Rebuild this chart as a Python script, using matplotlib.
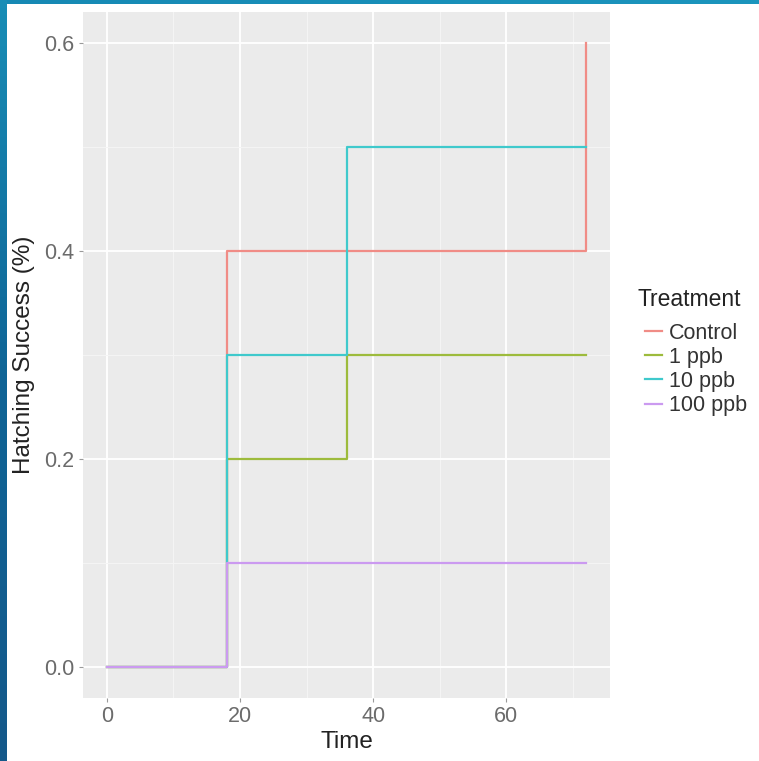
import numpy as np
import matplotlib
matplotlib.use('Agg')
from matplotlib import pyplot as plt

# data
time = [0, 18, 36, 72]
treatments = ['Control', '1 ppb', '10 ppb', '100 ppb']
control = [0.0, 0.4, 0.4, 0.6]
ppb1 = [0.0, 0.2, 0.3, 0.3]
ppb10 = [0.0, 0.3, 0.5, 0.5]
ppb100 = [0.0, 0.1, 0.1, 0.1]
colors = ['#F08C86', '#9DBB3C', '#3FC9CC', '#CB9AF0']

plt.rcParams['font.family'] = ['Liberation Sans', 'DejaVu Sans']

fig = plt.figure(figsize=(7.59, 7.61), dpi=100)
fig.patch.set_facecolor('white')

# blue slide border (top strip and left strip)
top = fig.add_axes([0, 1 - 4 / 761, 1, 4 / 761])
top.imshow(np.linspace(0, 1, 100).reshape(1, -1), aspect='auto',
           cmap=matplotlib.colors.LinearSegmentedColormap.from_list('t', ['#1689b4', '#1b95bd']))
top.axis('off')
left = fig.add_axes([0, 0, 7 / 759, 1])
left.imshow(np.linspace(0, 1, 100).reshape(-1, 1), aspect='auto',
            cmap=matplotlib.colors.LinearSegmentedColormap.from_list('l', ['#188db6', '#0f6496', '#15598a']))
left.axis('off')

ax = fig.add_axes([83 / 759, 1 - 698 / 761, (610 - 83) / 759, (698 - 12) / 761])
ax.set_facecolor('#EBEBEB')
for s in ax.spines.values():
    s.set_visible(False)

series = [control, ppb1, ppb10, ppb100]
for name, vals, c in zip(treatments, series, colors):
    ax.plot(time, vals, drawstyle='steps-post', color=c, lw=1.6, label=name)

ax.set_xlim(-3.6, 75.6)
ax.set_ylim(-0.03, 0.63)
ax.set_xticks([0, 20, 40, 60])
ax.set_yticks([0.0, 0.2, 0.4, 0.6])
ax.set_yticklabels(['0.0', '0.2', '0.4', '0.6'])
ax.set_xticks([10, 30, 50, 70], minor=True)
ax.set_yticks([0.1, 0.3, 0.5], minor=True)
ax.grid(which='major', color='white', lw=1.3)
ax.grid(which='minor', color='#F5F5F5', lw=0.7)
ax.set_axisbelow(True)
ax.tick_params(which='major', length=3, width=0.8, color='#9A9A9A',
               labelsize=15.5, labelcolor='#6B6B6B', pad=3)
ax.tick_params(which='minor', length=0)

ax.set_xlabel('Time', fontsize=17.5, color='#222222', va='center')
ax.xaxis.set_label_coords(0.5, -(742 - 698) / 686)
ax.set_ylabel('Hatching Success (%)', fontsize=17.5, color='#222222', va='center')
ax.yaxis.set_label_coords(-(83 - 24) / 527, 0.5)

# legend title drawn on its own so the gap above the keys matches
fig.text(637 / 759, 1 - 300 / 761, 'Treatment', fontsize=16.5, color='#222222',
         ha='left', va='center')
leg = ax.legend(loc='upper left', bbox_to_anchor=(645 / 759, 1 - 323 / 761),
                bbox_transform=fig.transFigure, frameon=False, fontsize=15.5,
                borderpad=0, borderaxespad=0, handlelength=0.8, handletextpad=0.3,
                labelspacing=0.14)
for t in leg.get_texts():
    t.set_color('#333333')

fig.savefig('out.png', dpi=100)
